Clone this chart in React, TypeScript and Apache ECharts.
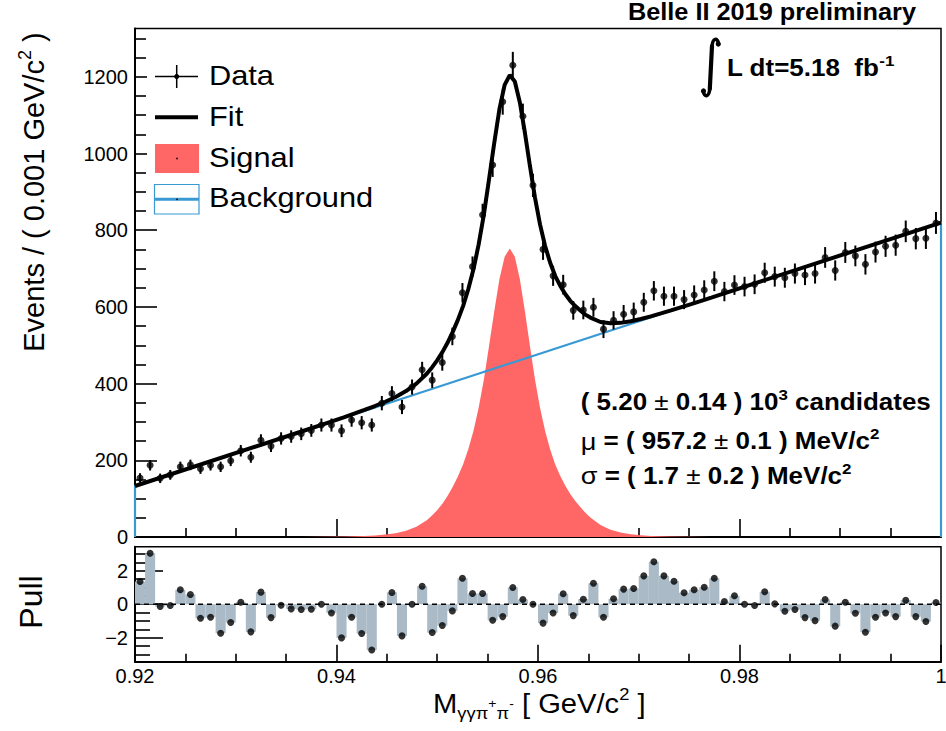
import { useEffect, useRef } from 'react';
import * as echarts from 'echarts';

const FONT = 'Liberation Sans';

// ---- data ----
const massLow = 0.92;
const massHigh = 1.0;
const binWidth = 0.001;

const dataCounts = [
  154, 187, 153, 162, 183, 188, 178, 187, 183, 199,
  225, 208, 252, 237, 257, 262, 269, 278, 292, 292,
  277, 305, 298, 292, 349, 374, 339, 391, 436, 409,
  455, 523, 637, 705, 840, 970, 1135, 1230, 1097, 917,
  750, 681, 658, 591, 592, 599, 542, 565, 581, 587,
  612, 642, 628, 628, 619, 631, 644, 667, 640, 657,
  653, 659, 689, 679, 676, 687, 683, 687, 729, 695,
  742, 733, 711, 743, 758, 761, 797, 778, 779, 819,
];

const pullValues = [
  1.35, 3.04, -0.14, -0.08, 0.86, 0.58, -0.84, -0.78, -1.73, -1.09,
  0.12, -1.65, 0.72, -0.8, -0.06, -0.28, -0.32, -0.3, 0.0, -0.52,
  -2.01, -0.78, -1.75, -2.73, 0.0, 0.7, -1.89, 0.0, 1.07, -1.69,
  -1.27, -0.4, 1.55, 0.64, 0.64, -0.96, -0.74, 1.0, 0.28, 0.0,
  -1.13, -0.52, 0.62, -0.68, 0.3, 1.25, -0.78, 0.32, 0.9, 0.94,
  1.69, 2.53, 1.69, 1.37, 0.68, 0.86, 1.01, 1.55, 0.16, 0.5,
  0.0, -0.08, 0.74, 0.02, -0.42, -0.32, -0.8, -0.98, 0.28, -1.31,
  0.12, -0.54, -1.67, -0.78, -0.52, -0.74, 0.24, -0.74, -1.03, 0.1,
];

// background (linear) end points
const backgroundMass = [0.92, 1.0];
const backgroundCounts = [133, 820];

// signal shape
const signalMass = [
  0.9366, 0.93866, 0.94072, 0.94175, 0.94278, 0.94381, 0.94484, 0.94587, 0.9469, 0.94793,
  0.94896, 0.94948, 0.94999, 0.95051, 0.95102, 0.95154, 0.95205, 0.95257, 0.95308, 0.9536,
  0.95411, 0.95463, 0.95514, 0.95566, 0.95617, 0.95669, 0.9572,
  0.9577, 0.9582, 0.9587, 0.9592, 0.9597, 0.9602, 0.9607, 0.9612, 0.9617, 0.9622,
  0.9627, 0.9632, 0.9637, 0.9642, 0.9647, 0.9652, 0.9662, 0.9672, 0.9682, 0.9692,
  0.9702, 0.9712, 0.9722, 0.9732, 0.9752, 0.9772,
];
const signalCounts = [
  0.15, 0.4, 1.1, 1.7, 2.6, 4.1, 6.4, 10, 16.5, 27,
  44, 56, 70, 87, 107, 131, 158, 190, 229, 277,
  337, 411, 498, 589, 672, 731, 752,
  731, 672, 589, 498, 411, 337, 277, 229, 190, 160,
  134, 112, 94, 78, 63, 51, 31, 19, 11.5, 7,
  4.3, 2.7, 1.7, 1.1, 0.4, 0.15,
];

// ticks
const xMajorTicks = [0.92, 0.94, 0.96, 0.98, 1.0];
const xMinorTicks = [0.925, 0.93, 0.935, 0.945, 0.95, 0.955, 0.965, 0.97, 0.975, 0.985, 0.99, 0.995];
const yMajorTicks = [0, 200, 400, 600, 800, 1000, 1200];
const yMinorTicks = [50, 100, 150, 250, 300, 350, 450, 500, 550, 650, 700, 750, 850, 900, 950, 1050, 1100, 1150, 1250, 1300];
const pullMajorTicks = [-2, 0, 2];
const pullMinorTicks = [-3, -2.5, -1.5, -1, -0.5, 0.5, 1, 1.5, 2.5, 3];

const C_SIGNAL = '#ff6666';
const C_BKG = '#399ad3';
const C_PULL = '#aabbc7';

function bgAt(x: number) {
  return backgroundCounts[0] + (backgroundCounts[1] - backgroundCounts[0]) * (x - backgroundMass[0]) / (backgroundMass[1] - backgroundMass[0]);
}

function makeAxis(kind: 'x' | 'y', grid: number, min: number, max: number, ticks: number[], len: number, major: boolean, labels: boolean, fmt?: (v: number) => string) {
  return {
    type: 'value',
    gridIndex: grid,
    min,
    max,
    position: kind === 'x' ? 'bottom' : 'left',
    offset: 0,
    axisLine: { show: major, onZero: false, lineStyle: { color: '#000', width: 2 } },
    axisTick: { show: true, inside: true, length: len, customValues: ticks, lineStyle: { color: '#000', width: 1.6 } },
    axisLabel: labels
      ? { show: true, customValues: ticks, formatter: fmt, margin: kind === 'x' ? 4 : 7, fontSize: 20, fontFamily: FONT, color: '#000' }
      : { show: false },
    splitLine: { show: false },
    minorTick: { show: false },
  };
}

function text(x: number, y: number, content: string, rich: any, opts: any = {}) {
  return {
    type: 'text',
    x,
    y,
    z: 100,
    rotation: opts.rotation || 0,
    scaleX: opts.scaleX || 1,
    style: {
      text: content,
      fill: '#000',
      font: `${opts.size || 20}px ${FONT}`,
      textAlign: opts.align || 'left',
      textVerticalAlign: 'middle',
      rich,
    },
  };
}

export default function App() {
  const ref = useRef<HTMLDivElement>(null);
  useEffect(() => {
    if (!ref.current) return;
    const chart = echarts.init(ref.current, null, { renderer: 'svg' });

    const centers = dataCounts.map((_, i) => massLow + (i + 0.5) * binWidth);
    const errData = dataCounts.map((n, i) => [centers[i], n, Math.sqrt(n)]);
    const ptsData = dataCounts.map((n, i) => [centers[i], n]);
    const pullBars = pullValues.map((p, i) => [massLow + i * binWidth, massLow + (i + 1) * binWidth, p]);
    const pullPts = pullValues.map((p, i) => [centers[i], p]);
    const sigData = signalMass.map((x, i) => [x, signalCounts[i]]);
    const fitData = [
      [backgroundMass[0], backgroundCounts[0]],
      ...signalMass.map((x, i) => [x, bgAt(x) + signalCounts[i]]),
      [backgroundMass[1], backgroundCounts[1]],
    ];
    const bkgData = [
      [backgroundMass[0], 0],
      [backgroundMass[0], backgroundCounts[0]],
      [backgroundMass[1], backgroundCounts[1]],
      [backgroundMass[1], 0],
    ];

    const xFmt = (v: number) => (Math.abs(v - 1) < 1e-9 ? '1' : v.toFixed(2));
    const pFmt = (v: number) => (v < 0 ? '\u2212' + Math.abs(v) : String(v));

    const bold = (s: number) => ({ fontSize: s, fontWeight: 'bold', fontFamily: FONT, lineHeight: 30 });
    const reg = (s: number) => ({ fontSize: s, fontFamily: FONT, lineHeight: 30 });
    const sup = (s: number, lh: number) => ({ fontSize: s, fontWeight: 'bold', fontFamily: FONT, lineHeight: lh, verticalAlign: 'top' });

    const resRich = { b: bold(23), n: reg(23), g: reg(24), p: sup(15, 19) };

    const option: any = {
      animation: false,
      textStyle: { fontFamily: FONT },
      grid: [
        { left: 135, top: 28.5, width: 806, height: 508.5, show: true, borderColor: '#000', borderWidth: 1.5, backgroundColor: 'transparent', containLabel: false, outerBoundsMode: 'none' },
        { left: 135, top: 546.7, width: 806, height: 115, show: true, borderColor: '#000', borderWidth: 1.5, backgroundColor: 'transparent', containLabel: false, outerBoundsMode: 'none' },
      ],
      xAxis: [
        makeAxis('x', 0, massLow, massHigh, xMajorTicks, 18, true, false),
        makeAxis('x', 0, massLow, massHigh, xMinorTicks, 9, false, false),
        makeAxis('x', 1, massLow, massHigh, xMajorTicks, 17, true, true, xFmt),
        makeAxis('x', 1, massLow, massHigh, xMinorTicks, 8, false, false),
      ],
      yAxis: [
        makeAxis('y', 0, 0, 1326, yMajorTicks, 22, true, true, (v: number) => String(v)),
        makeAxis('y', 0, 0, 1326, yMinorTicks, 11, false, false),
        makeAxis('y', 1, -3.43, 3.43, pullMajorTicks, 28, true, true, pFmt),
        makeAxis('y', 1, -3.43, 3.43, pullMinorTicks, 15, false, false),
      ],
      series: [
        {
          name: 'Signal', type: 'line', xAxisIndex: 0, yAxisIndex: 0, data: sigData,
          symbol: 'none', showSymbol: false, z: 1, silent: true,
          lineStyle: { width: 0, color: C_SIGNAL }, itemStyle: { color: C_SIGNAL },
          areaStyle: { color: C_SIGNAL, opacity: 1 },
        },
        {
          name: 'Background', type: 'line', xAxisIndex: 0, yAxisIndex: 0, data: bkgData,
          symbol: 'none', showSymbol: false, z: 2, silent: true,
          lineStyle: { width: 2.2, color: C_BKG }, itemStyle: { color: C_BKG },
        },
        {
          name: 'Fit', type: 'line', xAxisIndex: 0, yAxisIndex: 0, data: fitData,
          symbol: 'none', showSymbol: false, z: 3, silent: true,
          lineStyle: { width: 4, color: '#000' }, itemStyle: { color: '#000' },
        },
        {
          name: 'Errors', type: 'custom', xAxisIndex: 0, yAxisIndex: 0, data: errData, z: 4, silent: true,
          encode: { x: 0, y: 1 },
          renderItem: (_p: any, api: any) => {
            const x = api.value(0), y = api.value(1), e = api.value(2);
            const a = api.coord([x, y - e]);
            const b = api.coord([x, y + e]);
            return { type: 'line', shape: { x1: a[0], y1: a[1], x2: b[0], y2: b[1] }, style: { stroke: '#000', lineWidth: 2 } };
          },
        },
        {
          name: 'Data', type: 'scatter', xAxisIndex: 0, yAxisIndex: 0, data: ptsData, z: 5, silent: true,
          symbol: 'circle', symbolSize: 7, itemStyle: { color: '#000' },
        },
        {
          name: 'PullBars', type: 'custom', xAxisIndex: 2, yAxisIndex: 2, data: pullBars, z: 1, silent: true,
          encode: { x: [0, 1], y: 2 },
          renderItem: (_p: any, api: any) => {
            const lo = api.value(0), hi = api.value(1), p = api.value(2);
            const a = api.coord([lo, p]);
            const b = api.coord([hi, 0]);
            return { type: 'rect', shape: { x: a[0], y: Math.min(a[1], b[1]), width: b[0] - a[0], height: Math.abs(b[1] - a[1]) }, style: { fill: C_PULL } };
          },
        },
        {
          name: 'Zero', type: 'line', xAxisIndex: 2, yAxisIndex: 2, data: [[massLow, 0], [massHigh, 0]],
          symbol: 'none', showSymbol: false, z: 2, silent: true,
          lineStyle: { width: 1.6, color: '#000', type: [5, 4] },
        },
        {
          name: 'PullPts', type: 'scatter', xAxisIndex: 2, yAxisIndex: 2, data: pullPts, z: 3, silent: true,
          symbol: 'circle', symbolSize: 7, itemStyle: { color: '#000' },
        },
      ],
      graphic: {
        elements: [
          // legend box
          { type: 'rect', z: 90, shape: { x: 147, y: 52, width: 238, height: 170 }, style: { fill: '#fff' } },
          { type: 'line', z: 100, shape: { x1: 155, y1: 76.5, x2: 198, y2: 76.5 }, style: { stroke: '#000', lineWidth: 1.5 } },
          { type: 'line', z: 100, shape: { x1: 176.7, y1: 65, x2: 176.7, y2: 88 }, style: { stroke: '#000', lineWidth: 1.5 } },
          { type: 'circle', z: 100, shape: { cx: 176.7, cy: 76.5, r: 2.5 }, style: { fill: '#000' } },
          { type: 'line', z: 100, shape: { x1: 155, y1: 117.3, x2: 198, y2: 117.3 }, style: { stroke: '#000', lineWidth: 4 } },
          { type: 'rect', z: 100, shape: { x: 155, y: 144, width: 44, height: 29 }, style: { fill: C_SIGNAL } },
          { type: 'circle', z: 101, shape: { cx: 177, cy: 158.5, r: 0.8 }, style: { fill: '#000' } },
          { type: 'rect', z: 100, shape: { x: 154.5, y: 184.5, width: 44.5, height: 29.5 }, style: { fill: 'none', stroke: C_BKG, lineWidth: 1.2 } },
          { type: 'line', z: 100, shape: { x1: 154.5, y1: 199.3, x2: 199, y2: 199.3 }, style: { stroke: C_BKG, lineWidth: 3 } },
          { type: 'circle', z: 101, shape: { cx: 177, cy: 199.3, r: 0.8 }, style: { fill: '#000' } },
          text(209, 76, 'Data', undefined, { size: 27, scaleX: 1.14 }),
          text(209, 117, 'Fit', undefined, { size: 27, scaleX: 1.14 }),
          text(209, 157.5, 'Signal', undefined, { size: 27, scaleX: 1.14 }),
          text(209, 198, 'Background', undefined, { size: 27, scaleX: 1.14 }),

          // header
          text(916, 12, '{b|Belle II 2019 preliminary}', { b: { fontSize: 23, fontWeight: 'bold', fontFamily: FONT } }, { align: 'right', scaleX: 1.1 }),

          // luminosity: integral sign drawn as strokes
          { type: 'bezierCurve', z: 100, shape: { x1: 718.5, y1: 43.5, cpx1: 717.5, cpy1: 37.5, cpx2: 712.5, cpy2: 37.5, x2: 712, y2: 47 }, style: { stroke: '#000', lineWidth: 3.5, fill: 'none', lineCap: 'round' } },
          { type: 'line', z: 100, shape: { x1: 712, y1: 46, x2: 709.8, y2: 89 }, style: { stroke: '#000', lineWidth: 4.2, lineCap: 'round' } },
          { type: 'bezierCurve', z: 100, shape: { x1: 709.8, y1: 88, cpx1: 709.3, cpy1: 97.5, cpx2: 704.3, cpy2: 97.5, x2: 703.3, y2: 91.5 }, style: { stroke: '#000', lineWidth: 3.5, fill: 'none', lineCap: 'round' } },
          { type: 'circle', z: 101, shape: { cx: 718.3, cy: 44, r: 2.6 }, style: { fill: '#000' } },
          { type: 'circle', z: 101, shape: { cx: 703.5, cy: 91, r: 2.6 }, style: { fill: '#000' } },
          text(727, 68, '{b|L dt=5.18  fb}{p|-1}', { b: bold(23), p: sup(15, 19) }, { scaleX: 1.13 }),

          // fit results
          text(580.7, 402, '{b|( 5.20 }{n|\u00B1 }{b|0.14 ) 10}{p|3}{b| candidates}', resRich, { scaleX: 1.13 }),
          text(580.7, 441.5, '{g|\u03BC}{b| = ( 957.2 }{n|\u00B1 }{b|0.1 ) MeV/c}{p|2}', resRich, { scaleX: 1.13 }),
          text(580.7, 476, '{g|\u03C3}{b| = ( 1.7 }{n|\u00B1 }{b|0.2 ) MeV/c}{p|2}', resRich, { scaleX: 1.13 }),

          // axis titles
          text(34, 192, '{m|Events / ( 0.001 GeV/c}{p|2}{m| )}',
            { m: { fontSize: 29, fontFamily: FONT, lineHeight: 36 }, p: { fontSize: 18, fontFamily: FONT, lineHeight: 22, verticalAlign: 'top' } },
            { align: 'center', rotation: Math.PI / 2 }),
          text(31, 602, '{m|Pull}', { m: { fontSize: 32, fontFamily: FONT } }, { align: 'center', rotation: Math.PI / 2 }),
          text(433, 704, '{m|M}{s|\u03B3\u03B3\u03C0}{q|+}{s|\u03C0}{q|-}{m| [ GeV/c}{p|2}{m| ]}',
            {
              m: { fontSize: 27, fontFamily: FONT, lineHeight: 36 },
              s: { fontSize: 17, fontFamily: FONT, lineHeight: 17, verticalAlign: 'bottom' },
              q: { fontSize: 13, fontFamily: FONT, lineHeight: 13, verticalAlign: 'middle' },
              p: { fontSize: 17, fontFamily: FONT, lineHeight: 21, verticalAlign: 'top' },
            },
            { scaleX: 1.08 }),
        ],
      },
    };

    chart.setOption(option);
    return () => chart.dispose();
  }, []);
  return <div ref={ref} style={{ position: 'fixed', left: 0, top: 0, width: 946, height: 731, background: '#fff' }} />;
}
